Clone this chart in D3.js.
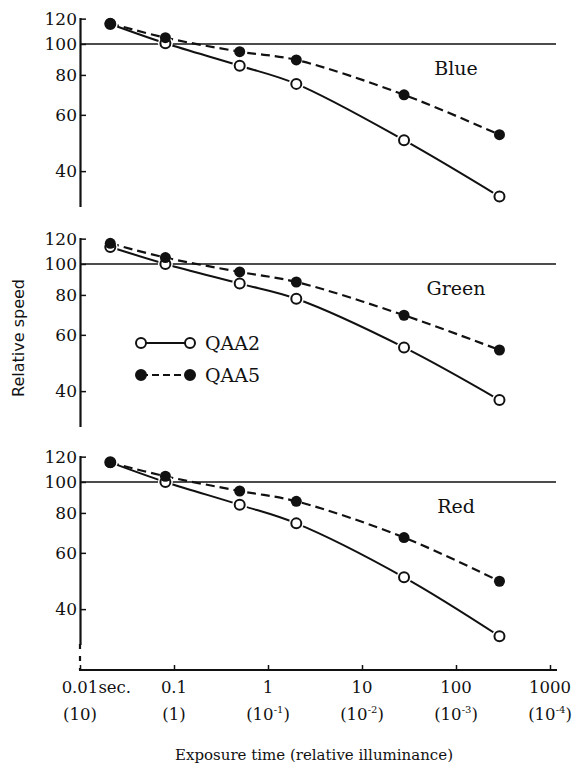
<!DOCTYPE html>
<html lang="en">
<head>
<meta charset="utf-8">
<title>Relative speed vs exposure time</title>
<script src="https://cdn.jsdelivr.net/npm/d3@7"></script>
<style>
  body { margin: 0; background: #fff; }
  svg text { fill: #111; }
  .tick text { font-family: "DejaVu Serif", serif; font-size: 17px; }
</style>
</head>
<body>
<svg id="chart" width="574" height="765"></svg>
<script>
// exposure times (sec) of the measured points
var times = [0.021, 0.081, 0.5, 2, 28, 290];
var xTicks = [0.01, 0.1, 1, 10, 100, 1000];
var xTop = ["0.01", "0.1", "1", "10", "100", "1000"];
var xBottom = ["10", "1", "-1", "-2", "-3", "-4"];  // relative illuminance, 10^n for negatives
var yTicks = [40, 60, 80, 100, 120];

var panels = ["Blue", "Green", "Red"];
var qaa2 = [
  [115.5, 100.5, 85.5, 75, 50, 33.3],
  [113, 100, 86.8, 77.8, 54.8, 37.5],
  [115.2, 100, 84.8, 74.2, 50.3, 32.9]
];
var qaa5 = [
  [116, 104.6, 94.6, 89.1, 69.3, 52],
  [116, 104.7, 94.4, 87.8, 69.1, 53.8],
  [115, 104.2, 93.7, 87, 67, 48.9]
];

var svg = d3.select("#chart");
var serif = "DejaVu Serif, serif";

var x = d3.scaleLog().domain([0.01, 1000]).range([80, 550]);

// where the 100 line sits in each panel
var y100 = [44, 264, 482];
var panelH = 189;

panels.forEach(function(name, i) {
  var top = y100[i] - 26.5;
  var y = d3.scaleLog().domain([31, 121]).range([top + panelH, top]);
  var g = svg.append("g");

  // 100 reference line
  g.append("line")
    .attr("x1", 80).attr("x2", 556)
    .attr("y1", y(100)).attr("y2", y(100))
    .attr("stroke", "#111").attr("stroke-width", 1.5);

  var ax = g.append("g")
    .attr("transform", "translate(80,0)")
    .call(d3.axisLeft(y).tickValues(yTicks).tickFormat(d3.format("d"))
      .tickSizeInner(-6).tickSizeOuter(0).tickPadding(3));
  ax.select(".domain").attr("stroke", "#111").attr("stroke-width", 2.2);
  ax.selectAll(".tick line").attr("stroke", "#111").attr("stroke-width", 1.5);
  ax.selectAll(".tick text").attr("fill", "#111");

  var line = d3.line()
    .x(function(d, j) { return x(times[j]); })
    .y(function(d) { return y(d); })
    .curve(d3.curveCatmullRom.alpha(0.5));

  g.append("path").datum(qaa5[i])
    .attr("d", line).attr("fill", "none")
    .attr("stroke", "#111").attr("stroke-width", 2.2)
    .attr("stroke-dasharray", "9,5");
  g.append("path").datum(qaa2[i])
    .attr("d", line).attr("fill", "none")
    .attr("stroke", "#111").attr("stroke-width", 2);

  // white halo so the solid line stops short of the open circles
  g.selectAll(".halo").data(qaa2[i]).enter().append("circle")
    .attr("class", "halo")
    .attr("cx", function(d, j) { return x(times[j]); })
    .attr("cy", function(d) { return y(d); })
    .attr("r", 7.5).attr("fill", "#fff");
  g.selectAll(".open").data(qaa2[i]).enter().append("circle")
    .attr("class", "open")
    .attr("cx", function(d, j) { return x(times[j]); })
    .attr("cy", function(d) { return y(d); })
    .attr("r", 5).attr("fill", "#fff")
    .attr("stroke", "#111").attr("stroke-width", 2);
  g.selectAll(".filled").data(qaa5[i]).enter().append("circle")
    .attr("class", "filled")
    .attr("cx", function(d, j) { return x(times[j]); })
    .attr("cy", function(d) { return y(d); })
    .attr("r", 5.5).attr("fill", "#111");

  g.append("text")
    .attr("x", 456).attr("y", y100[i] + 31)
    .attr("text-anchor", "middle")
    .style("font-family", serif).style("font-size", "19px")
    .text(name);
});

// broken bit of the axis below the red panel
svg.append("line")
  .attr("x1", 80).attr("x2", 80)
  .attr("y1", 644).attr("y2", 670)
  .attr("stroke", "#111").attr("stroke-width", 2.2)
  .attr("stroke-dasharray", "5,7");

// x axis
var xa = svg.append("g")
  .attr("transform", "translate(0,670)")
  .call(d3.axisBottom(x).tickValues(xTicks).tickFormat("")
    .tickSizeInner(-5).tickSizeOuter(0));
xa.select(".domain").attr("d", "M79,0H557").attr("stroke", "#111").attr("stroke-width", 2);
xa.selectAll(".tick line").attr("stroke", "#111").attr("stroke-width", 1.5);

xTicks.forEach(function(t, i) {
  var t1 = svg.append("text")
    .attr("x", x(t)).attr("y", 693)
    .attr("text-anchor", "middle")
    .style("font-family", serif).style("font-size", "16.5px")
    .text(xTop[i]);
  if (i == 0) {
    var w = t1.node().getComputedTextLength();
    svg.append("text")
      .attr("x", x(t) + w / 2).attr("y", 693)
      .style("font-family", serif).style("font-size", "16.5px")
      .text("sec.");
  }
  var t2 = svg.append("text")
    .attr("x", x(t)).attr("y", 720)
    .attr("text-anchor", "middle")
    .style("font-family", serif).style("font-size", "16.5px");
  if (xBottom[i].charAt(0) == "-") {
    t2.append("tspan").text("(10");
    t2.append("tspan").attr("dy", -7).style("font-size", "10px")
      .text(xBottom[i]);
    t2.append("tspan").attr("dy", 7).text(")");
  } else {
    t2.text("(" + xBottom[i] + ")");
  }
});

svg.append("text")
  .attr("x", 314).attr("y", 760)
  .attr("text-anchor", "middle")
  .style("font-family", serif).style("font-size", "15px")
  .text("Exposure time (relative illuminance)");

svg.append("text")
  .attr("transform", "translate(24,338) rotate(-90)")
  .attr("text-anchor", "middle")
  .style("font-family", "DejaVu Sans, sans-serif").style("font-size", "16px")
  .text("Relative speed");

// legend
var legend = [
  {label: "QAA2", dash: null, fill: "#fff", y: 343},
  {label: "QAA5", dash: "7,4", fill: "#111", y: 375}
];
legend.forEach(function(d) {
  svg.append("line")
    .attr("x1", 141).attr("x2", 190)
    .attr("y1", d.y).attr("y2", d.y)
    .attr("stroke", "#111").attr("stroke-width", 2)
    .attr("stroke-dasharray", d.dash);
  [141, 190].forEach(function(cx) {
    svg.append("circle")
      .attr("cx", cx).attr("cy", d.y).attr("r", 5)
      .attr("fill", d.fill).attr("stroke", "#111").attr("stroke-width", 2);
  });
  svg.append("text")
    .attr("x", 205).attr("y", d.y + 7)
    .style("font-family", serif).style("font-size", "19px")
    .text(d.label);
});
</script>
</body>
</html>
